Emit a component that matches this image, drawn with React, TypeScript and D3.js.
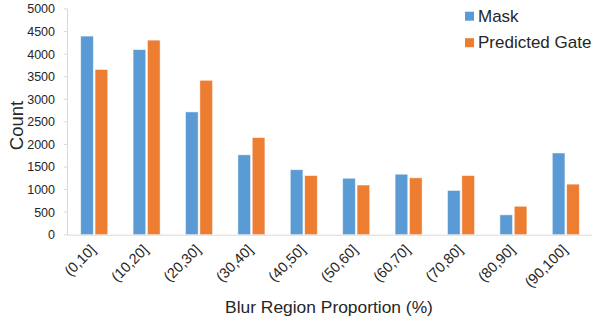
import React from "react";
import * as d3 from "d3";

const categories = ["(0,10]", "(10,20]", "(20,30]", "(30,40]", "(40,50]", "(50,60]", "(60,70]", "(70,80]", "(80,90]", "(90,100]"];
const maskValues = [4400, 4100, 2720, 1770, 1440, 1250, 1340, 980, 440, 1810];
const gateValues = [3660, 4310, 3420, 2150, 1310, 1100, 1260, 1310, 630, 1120];
const yTicks = [0, 500, 1000, 1500, 2000, 2500, 3000, 3500, 4000, 4500, 5000];
const seriesNames = ["Mask", "Predicted Gate"];
const seriesColors = ["#5B9BD5", "#ED7D31"];

const W = 592;
const H = 322;
const margin = { left: 68, right: 0, top: 9, bottom: 87 };
const font = "'Liberation Sans', Arial, sans-serif";
const textColor = "#262626";

export default function App() {
  const x = d3.scaleBand<string>().domain(categories).range([margin.left, W - margin.right]).paddingInner(0).paddingOuter(0);
  const y = d3.scaleLinear().domain([0, 5000]).range([H - margin.bottom - 0.3, margin.top]);
  const sub = d3.scaleBand<number>().domain([0, 1]).range([0, 27]).paddingInner(0.12);
  const groupOffset = (x.bandwidth() - 27) / 2;
  const series = [maskValues, gateValues];
  const y0 = y(0);

  return (
    <svg width={W} height={H} style={{ position: "absolute", left: 0, top: 0, background: "#fff" }}>
      {/* axes */}
      <line x1={margin.left - 0.5} x2={margin.left - 0.5} y1={y(5000)} y2={y0} stroke="#d9d9d9" />
      {yTicks.map((t) => (
        <g key={t}>
          <line x1={margin.left - 4} x2={margin.left} y1={y(t)} y2={y(t)} stroke="#d9d9d9" />
          <text x={55} y={y(t)} dy="0.35em" textAnchor="end" fontFamily={font} fontSize={12.5} fill={textColor}>
            {t}
          </text>
        </g>
      ))}
      {/* bars */}
      {series.map((vals, si) =>
        vals.map((v, i) => (
          <rect
            key={`${si}-${i}`}
            x={(x(categories[i]) ?? 0) + groupOffset + (sub(si) ?? 0)}
            y={y(v)}
            width={sub.bandwidth()}
            height={y0 - y(v)}
            fill={seriesColors[si]}
            stroke="#ffffff"
            strokeOpacity={0.6}
            strokeWidth={0.8}
          />
        ))
      )}
      <line x1={margin.left - 0.5} x2={W} y1={y0 + 0.5} y2={y0 + 0.5} stroke="#d9d9d9" />
      {/* category labels */}
      {categories.map((c) => {
        const cx = (x(c) ?? 0) + x.bandwidth() / 2 + 2.5;
        const cy = y0 + 16;
        return (
          <text
            key={c}
            x={cx}
            y={cy}
            textAnchor="end"
            fontFamily={font}
            fontSize={14.5}
            fill={textColor}
            transform={`rotate(-45, ${cx}, ${cy})`}
          >
            {c}
          </text>
        );
      })}
      {/* axis titles */}
      <text x={329} y={313} textAnchor="middle" fontFamily={font} fontSize={17.4} fill={textColor}>
        Blur Region Proportion (%)
      </text>
      <text
        x={0}
        y={0}
        transform={`translate(22.5, 125.5) rotate(-90)`}
        textAnchor="middle"
        fontFamily={font}
        fontSize={18.5}
        fill={textColor}
      >
        Count
      </text>
      {/* legend */}
      {seriesNames.map((n, i) => (
        <g key={n} transform={`translate(465, ${11.7 + i * 26.5})`}>
          <rect x={0} y={0} width={9} height={9} fill={seriesColors[i]} />
          <text x={13} y={10} fontFamily={font} fontSize={17} fill={textColor}>
            {n}
          </text>
        </g>
      ))}
    </svg>
  );
}
